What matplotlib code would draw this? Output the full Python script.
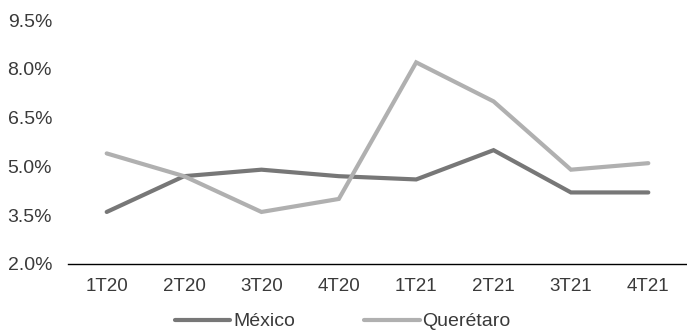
import matplotlib
matplotlib.use("Agg")
import matplotlib.pyplot as plt
from matplotlib.ticker import FuncFormatter

quarters = ["1T20", "2T20", "3T20", "4T20", "1T21", "2T21", "3T21", "4T21"]
mexico = [3.6, 4.7, 4.9, 4.7, 4.6, 5.5, 4.2, 4.2]
queretaro = [5.4, 4.7, 3.6, 4.0, 8.2, 7.0, 4.9, 5.1]
yticks = [2.0, 3.5, 5.0, 6.5, 8.0, 9.5]

plt.rcParams["font.family"] = ["Liberation Sans", "DejaVu Sans"]
text_color = "#3a3a3a"

fig = plt.figure(figsize=(6.87, 3.35), dpi=100)
ax = fig.add_axes([0.099, 0.212, 0.901, 0.728])

x = range(len(quarters))
ax.plot(x, mexico, color="#777777", lw=3.0, solid_capstyle="round",
        solid_joinstyle="miter", label="México")
ax.plot(x, queretaro, color="#b0b0b0", lw=3.0, solid_capstyle="round",
        solid_joinstyle="miter", label="Querétaro")

ax.set_xlim(-0.5, len(quarters) - 0.5)
ax.set_ylim(2.0, 9.5)
ax.set_yticks(yticks)
ax.yaxis.set_major_formatter(FuncFormatter(lambda v, p: f"{v:.1f}%"))
ax.set_xticks(list(x))
ax.set_xticklabels(quarters)

for side in ("top", "right", "left"):
    ax.spines[side].set_visible(False)
ax.spines["bottom"].set_color("#000000")
ax.spines["bottom"].set_linewidth(1.0)
ax.tick_params(axis="both", length=0, labelcolor=text_color)
ax.tick_params(axis="y", pad=11.5, labelsize=14)
ax.tick_params(axis="x", pad=10, labelsize=13.5)

leg = fig.legend(loc="center", bbox_to_anchor=(0.499, 0.04), ncol=2,
                 frameon=False, fontsize=14, handlelength=2.85,
                 handletextpad=0.15, columnspacing=3.55, labelcolor=text_color,
                 borderpad=0, borderaxespad=0)

fig.savefig("out.png", dpi=100)
